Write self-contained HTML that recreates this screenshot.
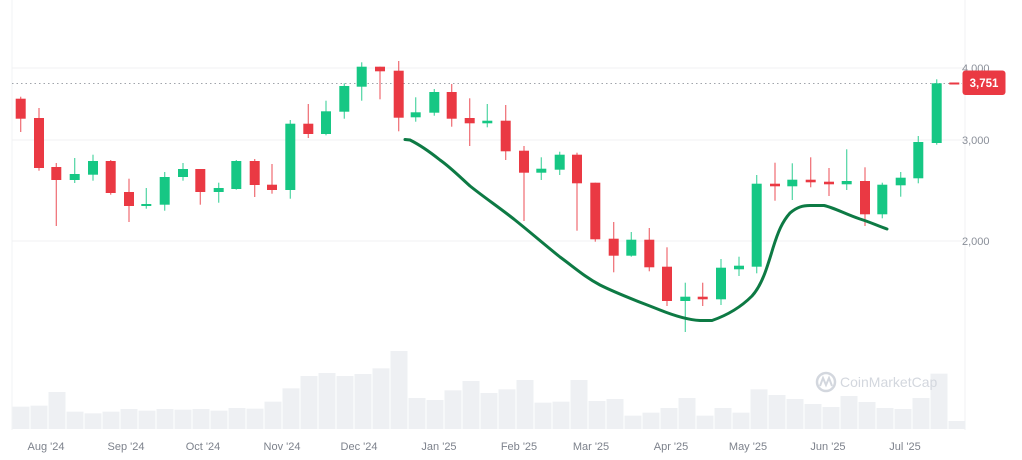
<!DOCTYPE html>
<html><head><meta charset="utf-8"><style>
html,body{margin:0;padding:0;background:#fff;}
svg{display:block;font-family:"Liberation Sans",sans-serif;}
</style></head><body>
<svg id="c" width="1022" height="460" viewBox="0 0 1022 460" xmlns="http://www.w3.org/2000/svg">
<rect width="1022" height="460" fill="#fff"/>
<line x1="12" y1="0" x2="12" y2="430" stroke="#f2f3f5" stroke-width="1"/>
<line x1="965" y1="0" x2="965" y2="430" stroke="#f0f1f3" stroke-width="1"/>
<line x1="12" y1="68" x2="965" y2="68" stroke="#f0f1f3"/>
<line x1="12" y1="140" x2="965" y2="140" stroke="#f0f1f3"/>
<line x1="12" y1="241" x2="965" y2="241" stroke="#f0f1f3"/>
<g id="vol" fill="#eef0f3"></g>
<g font-size="14" fill="#d3d7de" font-weight="bold">
<circle cx="826" cy="382" r="9" fill="none" stroke="#d3d7de" stroke-width="2.5"/>
<path d="M820 386 L823 378 L826 385 L829 378 L832 386" fill="none" stroke="#d3d7de" stroke-width="2"/>
<text x="840" y="387" font-weight="normal">CoinMarketCap</text>
</g>
<line x1="12" y1="83.5" x2="962" y2="83.5" stroke="#a0a4ab" stroke-width="1" stroke-dasharray="1.5,3"/>
<g id="cd"></g>
<path d="M405 139.5 L410 140 C420 145 430 152 440 160 C450 167 460 177 470 186 C485 198 500 208 515 220 C530 232 545 245 560 257 C575 268 585 277 600 285 C620 295 640 302 660 310 C675 316 690 320 700 320.5 L712 320.5 C725 316 740 308 752 296 C762 285 767 268 773 248 C778 232 782 222 790 213 C797 207 803 205.5 810 205.5 L824 205.5 C835 208 845 214 860 219 C870 222 878 226 887 229" fill="none" stroke="#0d7a44" stroke-width="3" stroke-linecap="round"/>
<g font-size="11" fill="#8a8f99">
<text x="962" y="72">4,000</text>
<text x="962" y="144">3,000</text>
<text x="962" y="245">2,000</text>
</g>
<rect x="962.5" y="70.5" width="43" height="24.5" rx="3" fill="#ea3943"/>
<text x="984" y="87" font-size="11.5" font-weight="bold" fill="#fff" text-anchor="middle">3,751</text>
<g font-size="11" fill="#7d828c" text-anchor="middle">
<text x="46" y="450">Aug '24</text><text x="126" y="450">Sep '24</text><text x="203" y="450">Oct '24</text>
<text x="282" y="450">Nov '24</text><text x="359" y="450">Dec '24</text><text x="439" y="450">Jan '25</text>
<text x="519" y="450">Feb '25</text><text x="591" y="450">Mar '25</text><text x="671" y="450">Apr '25</text>
<text x="748" y="450">May '25</text><text x="828" y="450">Jun '25</text><text x="905" y="450">Jul '25</text>
</g>
</svg>
<script>
var ns="http://www.w3.org/2000/svg";
var vt=[200,197,156,215,220,215,207,212,207,209,207,212,204,206,185,145,108,99,108,102,85,33,174,180,151,123,159,148,120,188,185,120,183,177,227,218,204,174,227,204,218,148,165,177,192,201,168,186,204,207,174,101,243];
var vg=document.getElementById('vol');
vt.forEach(function(t,i){var r=document.createElementNS(ns,'rect');var y=340+t/3;
r.setAttribute('x',12+18*i+0.5);r.setAttribute('width',17);r.setAttribute('y',y);r.setAttribute('height',429-y);vg.appendChild(r);});
// x, wickTop, wickBot, bodyTop, bodyBot, color(1 green)
var C=[
[20.7,96.7,132,98.7,118.7,0],[39,108,170.7,118,168,0],[56.3,163,226,167,180,0],[74.7,158,183,174,180,1],
[93,154.7,180.7,161,174.7,1],[110.7,160,194.7,161,193,0],[129,178.7,222,192,206,0],[146.3,188,208.7,204,206,1],
[164.7,172,210.7,177,204.7,1],[183,163,180.7,169,177,1],[200.3,169,204.7,169,192,0],[218.7,182.7,202.7,188,192,1],
[236.3,160,189.7,161,189,1],[254.7,159,197,161,185,0],[272,164,193.7,184.7,190,0],[290.3,120,198.7,123.7,190,1],
[308.3,104,138,123.7,134,0],[326,100.7,135.3,111.3,134,1],[344.3,83.3,118.7,86,111.7,1],[361.7,62.3,100.7,66.7,86.7,1],
[380,66.7,99.3,66.7,71.3,0],[398.7,61,131.3,70.7,117.7,0],[415.7,97.3,121.7,112.3,117.3,1],[434.3,89,115.7,92,112.7,1],
[451.7,84,126.7,92,118.7,0],[469.7,98.3,146,118,123.3,0],[487.3,104,127.3,120.7,123.3,1],[505.7,105,160,120.7,151.3,0],
[524,146,221,150.7,172.7,0],[541.3,157.3,180,168.7,172.7,1],[559.7,151.7,175,154.7,169.7,1],[577,152.7,230.7,154.7,183.3,0],
[595.3,182.7,241.7,182.7,239.3,0],[613.7,222,272.3,238.7,255.7,0],[631.3,232,256.7,239.7,255.7,1],[649.3,228,271.3,239.7,267.3,0],
[667,247.3,306,266.7,301,0],[685.3,282.7,332,296.7,301,1],[702.7,282.7,306,296.7,299.3,0],[721,259,305,267.7,299.3,1],
[739,256.7,276,265.7,269.3,1],[756.7,175,273.3,183.7,266.7,1],[775,162.7,200.7,183.7,186.3,0],[792.3,163.3,200,179.7,186.3,1],
[810.7,157.3,187.3,179.7,182.3,0],[829,168,196,181.7,184.3,0],[846.7,149.3,190,181,184.3,1],[865,167.3,226,181,214.3,0],
[882.3,182.7,218.3,184.7,214.3,1],[900.7,172,196.7,177.7,185.3,1],[918.3,136,183.3,142,178.3,1],[936.7,79.3,144.7,83.3,143,1],
[954.3,82.5,84.5,82.5,84.5,0]];
var cg=document.getElementById('cd');
C.forEach(function(c){var col=c[5]?'#16c784':'#ea3943';
var l=document.createElementNS(ns,'rect');l.setAttribute('x',c[0]-0.6);l.setAttribute('width',1.2);l.setAttribute('y',c[1]);l.setAttribute('height',c[2]-c[1]);l.setAttribute('fill',col);l.setAttribute('opacity','0.75');cg.appendChild(l);
var b=document.createElementNS(ns,'rect');var h=Math.max(c[4]-c[3],2);b.setAttribute('x',c[0]-5);b.setAttribute('width',10);b.setAttribute('y',c[3]);b.setAttribute('height',h);b.setAttribute('fill',col);cg.appendChild(b);});
</script>
</body></html>
